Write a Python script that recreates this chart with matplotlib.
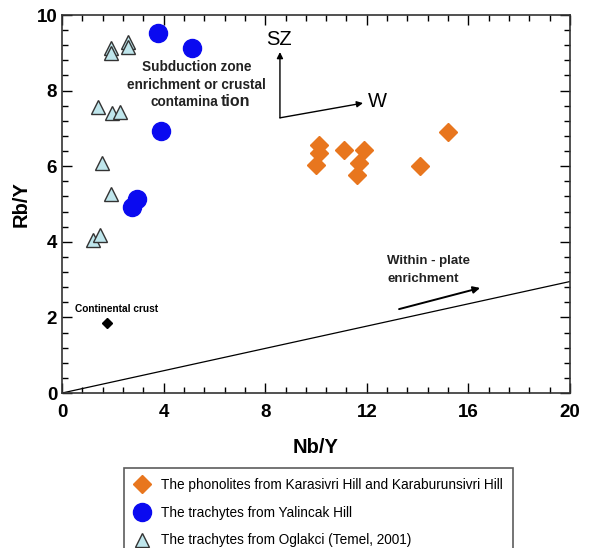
import matplotlib
matplotlib.use("Agg")
import matplotlib.pyplot as plt
from matplotlib.ticker import MultipleLocator

plt.rcParams['font.family'] = ['Liberation Sans', 'DejaVu Sans']

# phonolites (Karasivri / Karaburunsivri)
phon_nb = [10.1, 10.1, 10.0, 11.1, 11.9, 11.7, 11.6, 14.1, 15.2]
phon_rb = [6.56, 6.35, 6.03, 6.43, 6.43, 6.08, 5.77, 6.01, 6.90]

# trachytes Yalincak
yal_nb = [3.77, 5.1, 3.9, 2.95, 2.76]
yal_rb = [9.52, 9.13, 6.93, 5.13, 4.92]

# trachytes Oglakci (Temel, 2001)
ogl_nb = [1.93, 1.93, 2.6, 2.6, 1.43, 1.97, 2.28, 1.59, 1.93, 1.23, 1.5]
ogl_rb = [9.13, 9.0, 9.29, 9.15, 7.57, 7.40, 7.43, 6.08, 5.26, 4.05, 4.18]

crust_nb, crust_rb = 1.77, 1.85
trend_x = [0, 20]
trend_y = [0, 2.95]

fig = plt.figure(figsize=(5.93, 5.48), dpi=100)
ax = fig.add_axes([0.1046, 0.2828, 0.8566, 0.6898])

ax.plot(trend_x, trend_y, color='black', lw=0.9, zorder=1)

ax.plot(phon_nb, phon_rb, 'D', ms=9.5, color='#e8761e', mec='#e8761e', ls='none',
        label='The phonolites from Karasivri Hill and Karaburunsivri Hill', zorder=3)
ax.plot(yal_nb, yal_rb, 'o', ms=13, color='#0a0af0', mec='#0a0af0', ls='none',
        label='The trachytes from Yalincak Hill', zorder=3)
ax.plot(ogl_nb, ogl_rb, '^', ms=10.5, mfc='#bfe6ec', mec='#333333', mew=1.0, ls='none',
        label='The trachytes from Oglakci (Temel, 2001)', zorder=3)
ax.plot([crust_nb], [crust_rb], 'D', ms=5.5, color='black', zorder=3)

ax.text(0.5, 2.15, 'Continental crust', fontsize=7.3, fontweight='bold')

ax.text(5.3, 8.62, 'Subduction zone', fontsize=9.8, fontweight='bold', ha='center', va='center', color='#222222')
ax.text(5.3, 8.15, 'enrichment or crustal', fontsize=9.8, fontweight='bold', ha='center', va='center', color='#222222')
ax.text(3.5, 7.7, 'contamina', fontsize=9.8, fontweight='bold', ha='left', va='center', color='#222222')
ax.text(6.26, 7.72, 'tion', fontsize=11.5, fontweight='bold', ha='left', va='center', color='#222222')

# SZ / W vectors
ax.annotate('', xy=(8.58, 9.02), xytext=(8.58, 7.28),
            arrowprops=dict(arrowstyle='-|>', color='black', lw=1, mutation_scale=9, shrinkA=0, shrinkB=0))
ax.annotate('', xy=(11.85, 7.67), xytext=(8.58, 7.28),
            arrowprops=dict(arrowstyle='-|>', color='black', lw=1, mutation_scale=9, shrinkA=0, shrinkB=0))
ax.text(8.55, 9.35, 'SZ', fontsize=14.5, ha='center', va='center')
ax.text(12.4, 7.72, 'W', fontsize=14.5, ha='center', va='center')

ax.annotate('', xy=(16.46, 2.78), xytext=(13.27, 2.22),
            arrowprops=dict(arrowstyle='-|>', color='black', lw=1.4, mutation_scale=10, shrinkA=0, shrinkB=0))
ax.text(12.8, 3.49, 'Within - plate', fontsize=9.5, fontweight='bold', va='center', color='#222222')
ax.text(12.8, 3.02, 'enrichment', fontsize=9.5, fontweight='bold', va='center', color='#222222')

ax.set_xlim(0, 20)
ax.set_ylim(0, 10)
ax.xaxis.set_major_locator(MultipleLocator(4))
ax.xaxis.set_minor_locator(MultipleLocator(0.8))
ax.yaxis.set_major_locator(MultipleLocator(2))
ax.yaxis.set_minor_locator(MultipleLocator(0.4))
ax.tick_params(which='both', direction='in', top=True, right=True, width=1)
ax.tick_params(which='major', length=7, labelsize=13.5)
ax.tick_params(axis='x', which='major', pad=8)
ax.tick_params(which='minor', length=4)
for lab in ax.get_xticklabels() + ax.get_yticklabels():
    lab.set_fontweight('bold')
for s in ax.spines.values():
    s.set_linewidth(1.2)
    s.set_color('#333333')

ax.set_xlabel('Nb/Y', fontsize=14.5, fontweight='bold', labelpad=12)
ax.set_ylabel('Rb/Y', fontsize=14.5, fontweight='bold', labelpad=4)

leg = fig.legend(loc='upper left', bbox_to_anchor=(0.209, 0.146), fontsize=9.8,
                 frameon=True, fancybox=False, edgecolor='#333333', borderaxespad=0,
                 handletextpad=0.9, labelspacing=1.0, handlelength=1.1,
                 borderpad=0.75)
leg.get_frame().set_linewidth(1.2)

fig.savefig('out.png', dpi=100)
